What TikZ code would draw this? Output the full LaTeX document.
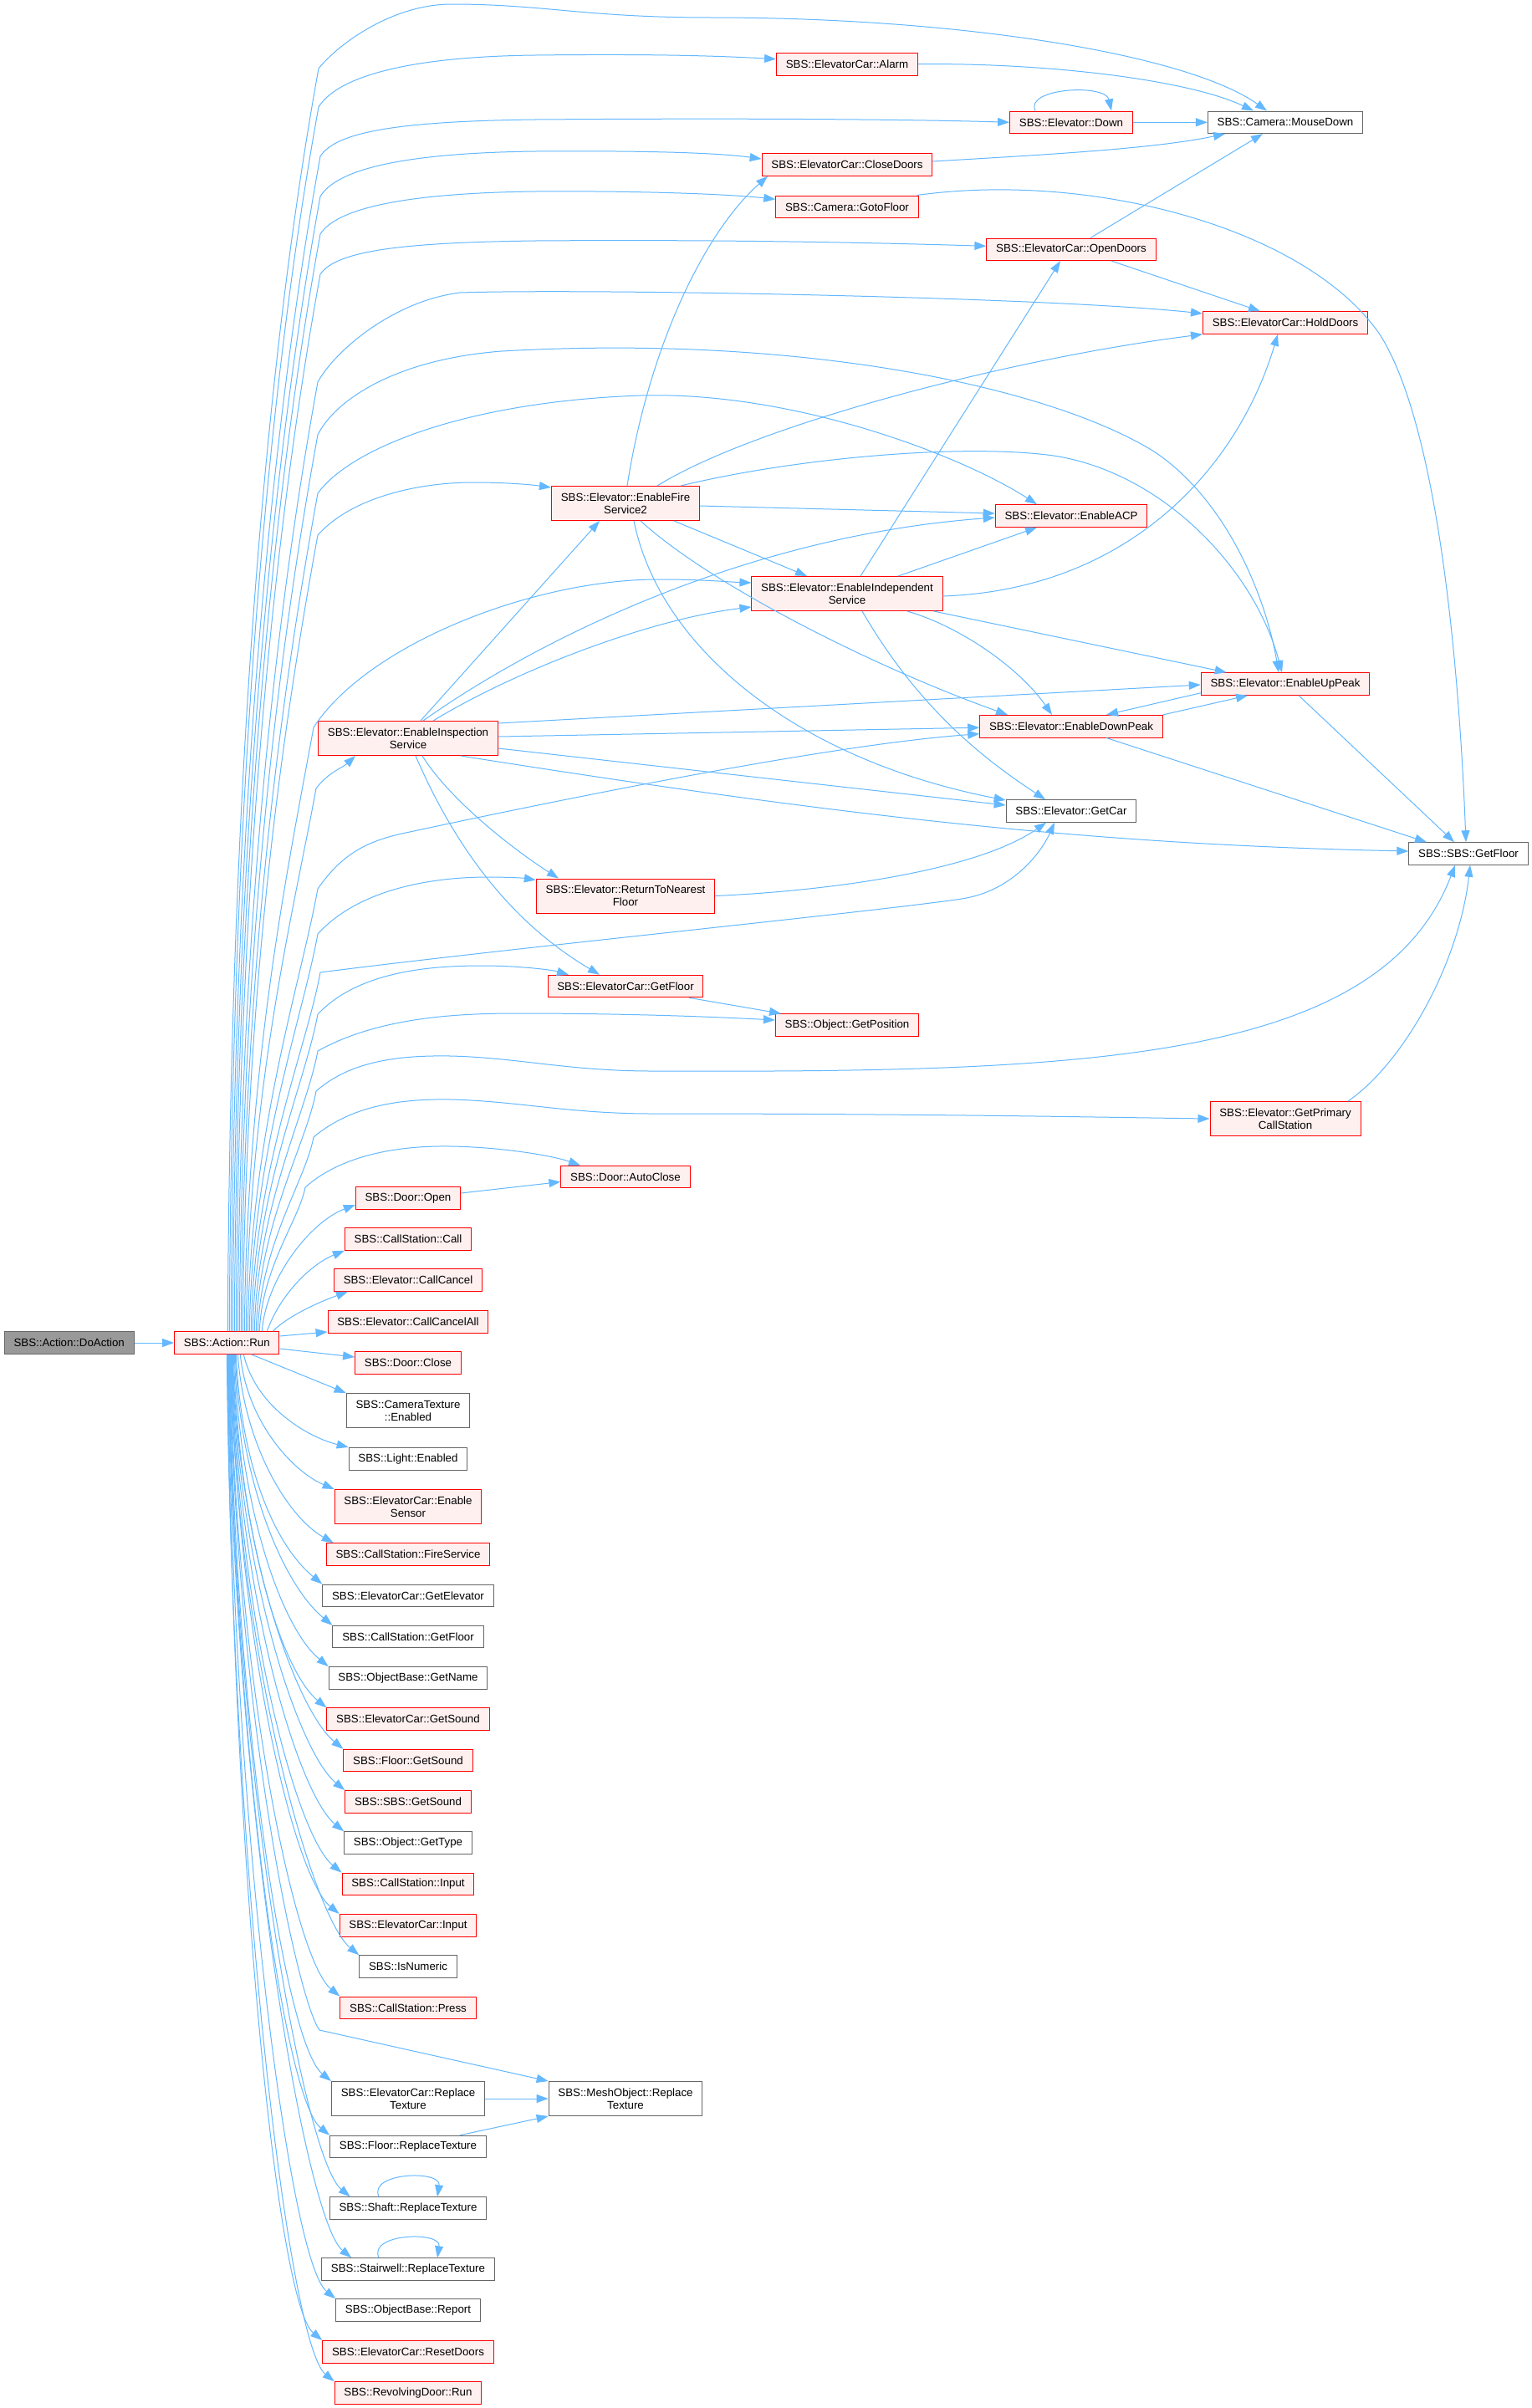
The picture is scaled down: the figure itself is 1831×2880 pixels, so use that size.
\documentclass[tikz,border=0pt]{standalone}
\usepackage{fontspec}
\setmainfont{Liberation Sans}
\usetikzlibrary{arrows.meta}
\definecolor{edgec}{HTML}{63B8FF}
\definecolor{redb}{HTML}{FF0000}
\definecolor{redf}{HTML}{FFF0F0}
\definecolor{grayb}{HTML}{666666}
\definecolor{dofill}{HTML}{999999}
\newcommand\upseg[3]{([xshift=#1]run.north) .. controls ({274.3+#1},{1593-0.45*(1593-#3)}) and ({#2-0.04*(1593-#3)},{#3+0.22*(1593-#3)}) .. (#2,#3)}
\newcommand\dnedge[3]{\draw[cn] ([xshift=#1]run.south) .. controls ({277.3+#1},{1619.3+0.5*(#3-1619.3)}) and ([xshift=-55pt,yshift=45pt]#2) .. (#2);}
\begin{document}
\begin{tikzpicture}[x=1pt,y=-1pt,
  nb/.style={draw, rectangle, font=\fontsize{13.3}{15}\selectfont, inner xsep=11.3pt, inner ysep=2pt, minimum height=26.6pt, align=center, line width=1pt, text=black},
  rn/.style={nb, draw=redb, fill=redf},
  gn/.style={nb, draw=grayb, fill=white},
  dn/.style={nb, draw=grayb, fill=dofill},
  two/.style={minimum height=41pt},
  cn/.style={draw=edgec, line width=1pt, -{Triangle[length=14pt,width=10pt]}}]
\useasboundingbox (0,0) rectangle (1831,2880);
\fill[white] (0,0) rectangle (1831,2880);
% nodes
\node[dn] (doaction) at (82.7,1606) {SBS::Action::DoAction};
\node[rn] (run) at (271.3,1606) {SBS::Action::Run};
\node[rn] (alarm) at (1013,76.7) {SBS::ElevatorCar::Alarm};
\node[rn] (down) at (1281,146.3) {SBS::Elevator::Down};
\node[gn] (mousedown) at (1537,146.3) {SBS::Camera::MouseDown};
\node[rn] (closedoors) at (1013,197) {SBS::ElevatorCar::CloseDoors};
\node[rn] (gotofloor) at (1013,247.3) {SBS::Camera::GotoFloor};
\node[rn] (opendoors) at (1281,298.3) {SBS::ElevatorCar::OpenDoors};
\node[rn] (holddoors) at (1537,386) {SBS::ElevatorCar::HoldDoors};
\node[rn,two] (fire2) at (748,602) {SBS::Elevator::EnableFire\\Service2};
\node[rn] (acp) at (1281,617) {SBS::Elevator::EnableACP};
\node[rn,two] (indep) at (1013,710) {SBS::Elevator::EnableIndependent\\Service};
\node[rn] (uppeak) at (1537,818) {SBS::Elevator::EnableUpPeak};
\node[rn] (downpeak) at (1281,868.7) {SBS::Elevator::EnableDownPeak};
\node[rn,two] (insp) at (488,883) {SBS::Elevator::EnableInspection\\Service};
\node[gn] (getcar) at (1281,970) {SBS::Elevator::GetCar};
\node[gn] (sbsfloor) at (1756,1021) {SBS::SBS::GetFloor};
\node[rn,two] (rtnf) at (748,1071.5) {SBS::Elevator::ReturnToNearest\\Floor};
\node[rn] (ecfloor) at (748,1179.5) {SBS::ElevatorCar::GetFloor};
\node[rn] (getpos) at (1013,1226) {SBS::Object::GetPosition};
\node[rn,two] (gpcs) at (1537,1338) {SBS::Elevator::GetPrimary\\CallStation};
\node[rn] (autoclose) at (748,1407.5) {SBS::Door::AutoClose};
\node[rn] (dopen) at (488,1433) {SBS::Door::Open};
\node[rn] (cscall) at (488,1482) {SBS::CallStation::Call};
\node[rn] (ccancel) at (488,1531) {SBS::Elevator::CallCancel};
\node[rn] (ccall) at (488,1581) {SBS::Elevator::CallCancelAll};
\node[rn] (dclose) at (488,1630) {SBS::Door::Close};
\node[gn,two] (camtex) at (488,1687) {SBS::CameraTexture\\::Enabled};
\node[gn] (light) at (488,1744.7) {SBS::Light::Enabled};
\node[rn,two] (sensor) at (488,1802) {SBS::ElevatorCar::Enable\\Sensor};
\node[rn] (csfire) at (488,1859) {SBS::CallStation::FireService};
\node[gn] (getelev) at (488,1908.3) {SBS::ElevatorCar::GetElevator};
\node[gn] (csfloor) at (488,1957.6) {SBS::CallStation::GetFloor};
\node[gn] (getname) at (488,2006.9) {SBS::ObjectBase::GetName};
\node[rn] (ecsound) at (488,2056.2) {SBS::ElevatorCar::GetSound};
\node[rn] (flsound) at (488,2105.5) {SBS::Floor::GetSound};
\node[rn] (sbssound) at (488,2154.8) {SBS::SBS::GetSound};
\node[gn] (gettype) at (488,2204.1) {SBS::Object::GetType};
\node[rn] (csinput) at (488,2253.4) {SBS::CallStation::Input};
\node[rn] (ecinput) at (488,2302.7) {SBS::ElevatorCar::Input};
\node[gn] (isnum) at (488,2352) {SBS::IsNumeric};
\node[rn] (press) at (488,2401.3) {SBS::CallStation::Press};
\node[gn,two] (ecrepl) at (488,2510) {SBS::ElevatorCar::Replace\\Texture};
\node[gn,two] (meshrepl) at (748,2510) {SBS::MeshObject::Replace\\Texture};
\node[gn] (flrepl) at (488,2567.5) {SBS::Floor::ReplaceTexture};
\node[gn] (shaft) at (488,2641) {SBS::Shaft::ReplaceTexture};
\node[gn] (stair) at (488,2714) {SBS::Stairwell::ReplaceTexture};
\node[gn] (report) at (488,2763) {SBS::ObjectBase::Report};
\node[rn] (reset) at (488,2812.7) {SBS::ElevatorCar::ResetDoors};
\node[rn] (revdoor) at (488,2862) {SBS::RevolvingDoor::Run};
\coordinate (shaftin) at ([xshift=25]shaft.north west);
\coordinate (stairin) at ([xshift=36]stair.north west);
\coordinate (firein) at ([xshift=9]csfire.north west);
% DoAction
\draw[cn] (doaction) -- (run);
% Run upward edges
\draw[cn] \upseg{1}{381}{82} .. controls (405,52) and (470,5) .. (540,5) .. controls (650,5) and (700,21) .. (850,21) .. controls (1150,21) and (1420,65) .. ([xshift=-22]mousedown.north);
\draw[cn] \upseg{3}{381}{128} .. controls (400,97) and (470,68) .. (640,66) .. controls (800,64) and (880,68) .. ([yshift=6]alarm.west);
\draw[cn] \upseg{5}{383}{187} .. controls (402,157) and (480,145) .. (640,143) .. controls (900,141) and (1100,143) .. (down.west);
\draw[cn] \upseg{7}{383}{235} .. controls (402,203) and (480,183) .. (640,181) .. controls (780,180) and (860,183) .. ([yshift=7]closedoors.west);
\draw[cn] \upseg{9}{383}{280} .. controls (402,250) and (480,231) .. (640,229) .. controls (780,228) and (880,233) .. ([yshift=9]gotofloor.west);
\draw[cn] \upseg{11}{383}{328} .. controls (402,300) and (480,290) .. (640,288) .. controls (900,286) and (1100,292) .. ([yshift=4]opendoors.west);
\draw[cn] \upseg{13}{380}{457} .. controls (400,420) and (470,360) .. (550,350) .. controls (700,345) and (1250,355) .. ([yshift=11]holddoors.west);
\draw[cn] \upseg{15}{380}{520} .. controls (400,480) and (470,430) .. (600,420) .. controls (950,400) and (1250,460) .. (1380,540) .. controls (1470,600) and (1515,720) .. ([xshift=-8]uppeak.north);
\draw[cn] \upseg{17}{380}{590} .. controls (420,535) and (560,480) .. (767,473) .. controls (950,468) and (1150,545) .. ([xshift=-41]acp.north);
\draw[cn] \upseg{19}{380}{640} .. controls (420,595) and (500,577) .. (566,577) .. controls (600,577) and (630,579) .. ([yshift=19]fire2.west);
\draw[cn] \upseg{21}{375}{870} .. controls (440,770) and (640,692) .. (790,693) .. controls (840,693) and (870,696) .. ([yshift=13]indep.west);
\draw[cn] \upseg{23}{378}{943} .. controls (392,924) and (410,918) .. ([xshift=-63]insp.south);
\draw[cn] \upseg{25}{380}{1063} .. controls (410,1020) and (440,1005) .. (490,995) .. controls (700,950) and (1000,890) .. ([yshift=-9]downpeak.west);
\draw[cn] \upseg{27}{380}{1117} .. controls (430,1062) and (520,1049) .. (583,1049) .. controls (605,1049) and (625,1050) .. ([yshift=19]rtnf.west);
\draw[cn] \upseg{29}{383}{1163} .. controls (600,1135) and (1050,1090) .. (1150,1075) .. controls (1210,1066) and (1245,1020) .. ([xshift=-20]getcar.south);
\draw[cn] \upseg{31}{380}{1213} .. controls (430,1160) and (520,1155) .. (577,1155) .. controls (620,1155) and (660,1160) .. ([xshift=-68]ecfloor.north);
\draw[cn] \upseg{33}{380}{1257} .. controls (450,1218) and (540,1212) .. (617,1212) .. controls (750,1212) and (850,1216) .. ([yshift=6]getpos.west);
\draw[cn] \upseg{35}{378}{1305} .. controls (420,1268) and (480,1262) .. (539,1263) .. controls (620,1265) and (680,1281) .. (780,1281) .. controls (1300,1283) and (1650,1270) .. ([xshift=-16]sbsfloor.south);
\draw[cn] \upseg{37}{375}{1360} .. controls (420,1322) and (480,1314) .. (539,1315) .. controls (620,1317) and (680,1332) .. (780,1332) .. controls (1100,1332) and (1300,1336) .. (gpcs.west);
\draw[cn] \upseg{39}{365}{1420} .. controls (410,1380) and (480,1370) .. (539,1371) .. controls (600,1372) and (660,1382) .. ([xshift=-54]autoclose.north);
\draw[cn] ([xshift=42]run.north) .. controls (318,1530) and (370,1462) .. ([yshift=-8]dopen.west);
\draw[cn] ([xshift=48]run.north) .. controls (335,1548) and (372,1512) .. (cscall.south west);
\draw[cn] ([xshift=55]run.north) .. controls (345,1573) and (385,1556) .. ([xshift=17]ccancel.south west);
\draw[cn] ([yshift=8]run.east) -- ([yshift=-12]ccall.west);
\draw[cn] ([yshift=-7]run.east) -- ([yshift=7]dclose.west);
\draw[cn] ([xshift=29]run.south) -- (camtex.north west);
\draw[cn] ([xshift=20]run.south) .. controls (305,1680) and (365,1718) .. (light.north west);
\draw[cn] ([xshift=16]run.south) .. controls (295,1700) and (350,1760) .. (sensor.north west);
\draw[cn] ([xshift=13]run.south) .. controls (292,1730) and (345,1815) .. (firein);
\dnedge{11}{getelev.north west}{1895}
\dnedge{10}{csfloor.north west}{1944.3}
\dnedge{9}{getname.north west}{1993.6}
\dnedge{8}{ecsound.north west}{2042.9}
\dnedge{7}{flsound.north west}{2092.2}
\dnedge{6.5}{sbssound.north west}{2141.5}
\dnedge{6}{gettype.north west}{2190.8}
\dnedge{5.5}{csinput.north west}{2240.1}
\dnedge{5}{ecinput.north west}{2289.4}
\dnedge{4.5}{isnum.north west}{2338.7}
\dnedge{4}{press.north west}{2388}
\draw[cn] ([xshift=3.5]run.south) .. controls (282,2050) and (355,2390) .. (382,2428) -- (meshrepl.north west);
\dnedge{3}{ecrepl.north west}{2489.7}
\dnedge{2.5}{flrepl.north west}{2554.7}
\dnedge{2}{shaftin}{2628}
\dnedge{1.5}{stairin}{2701.3}
\dnedge{1}{report.north west}{2750.3}
\dnedge{0.5}{reset.north west}{2800}
\dnedge{0}{revdoor.north west}{2849.3}
% other edges
\draw[cn] (alarm.east) .. controls (1250,75) and (1420,95) .. ([xshift=-38]mousedown.north);
\draw[cn] (down) -- (mousedown);
\draw[cn] ([xshift=-43]down.north) .. controls (1225,105) and (1322,100) .. ([xshift=48]down.north);
\draw[cn] ([yshift=4]closedoors.east) .. controls (1250,185) and (1380,178) .. ([xshift=-72]mousedown.south);
\draw[cn] ([xshift=23]opendoors.north) -- ([xshift=-27]mousedown.south);
\draw[cn] ([xshift=48]opendoors.south) -- ([xshift=-30]holddoors.north);
\draw[cn] ([xshift=-2]gotofloor.north east) .. controls (1300,205) and (1560,270) .. (1650,400) .. controls (1720,510) and (1745,800) .. ([xshift=-3]sbsfloor.north);
\draw[cn] ([xshift=2]fire2.north) .. controls (775,420) and (840,280) .. ([xshift=-95]closedoors.south);
\draw[cn] ([xshift=38]fire2.north) .. controls (900,510) and (1200,430) .. (holddoors.south west);
\draw[cn] ([yshift=-3]fire2.east) -- ([yshift=3]acp.west);
\draw[cn] ([xshift=58]fire2.south) -- ([xshift=-48]indep.north);
\draw[cn] ([xshift=66]fire2.north) .. controls (950,548) and (1150,530) .. (1260,545) .. controls (1390,565) and (1500,680) .. ([xshift=-4]uppeak.north);
\draw[cn] ([xshift=18]fire2.south) .. controls (850,700) and (1050,800) .. ([xshift=-76]downpeak.north);
\draw[cn] ([xshift=10]fire2.south) .. controls (790,780) and (960,910) .. ([yshift=13]getcar.west);
\draw[cn] ([xshift=61]indep.north) -- ([xshift=-41]acp.south);
\draw[cn] ([xshift=16]indep.north) -- ([xshift=-13]opendoors.south);
\draw[cn] ([yshift=-3]indep.east) .. controls (1350,705) and (1480,560) .. ([xshift=-9]holddoors.south);
\draw[cn] ([xshift=-11]indep.south east) -- ([xshift=31]uppeak.north west);
\draw[cn] ([xshift=72]indep.south) .. controls (1150,750) and (1220,800) .. ([xshift=-23]downpeak.north);
\draw[cn] ([xshift=18]indep.south) .. controls (1100,850) and (1180,910) .. ([xshift=-31]getcar.north);
\draw[cn] ([xshift=15]insp.north) -- ([xshift=-31]fire2.south);
\draw[cn] ([xshift=18]insp.north) .. controls (650,760) and (900,640) .. ([yshift=-2]acp.west);
\draw[cn] ([xshift=30]insp.north) .. controls (620,800) and (780,740) .. ([yshift=-16]indep.west);
\draw[cn] ([yshift=18]insp.east) -- ([yshift=-1]uppeak.west);
\draw[cn] ([yshift=2]insp.east) -- ([yshift=-1.5]downpeak.west);
\draw[cn] ([yshift=-12]insp.east) -- ([yshift=7]getcar.west);
\draw[cn] ([xshift=63]insp.south) .. controls (1000,975) and (1300,1010) .. ([yshift=3]sbsfloor.west);
\draw[cn] ([xshift=17]insp.south) .. controls (540,960) and (620,1020) .. ([xshift=-80]rtnf.north);
\draw[cn] ([xshift=9]insp.south) .. controls (560,1050) and (640,1120) .. ([xshift=-31]ecfloor.north);
\draw[cn] ([yshift=3]uppeak.south west) -- ([xshift=42]downpeak.north);
\draw[cn] (downpeak.north east) -- ([xshift=-45]uppeak.south);
\draw[cn] ([xshift=16]uppeak.south) -- ([xshift=-17]sbsfloor.north);
\draw[cn] ([xshift=42]downpeak.south) -- ([xshift=-50]sbsfloor.north);
\draw[cn] (rtnf.east) .. controls (1000,1065) and (1170,1040) .. ([xshift=-30]getcar.south);
\draw[cn] ([xshift=76]ecfloor.south) -- ([xshift=-79]getpos.north);
\draw[cn] ([xshift=75]gpcs.north) .. controls (1680,1270) and (1745,1150) .. ([xshift=2]sbsfloor.south);
\draw[cn] ([yshift=6]dopen.east) -- ([yshift=-6]autoclose.west);
\draw[cn] (ecrepl) -- (meshrepl);
\draw[cn] ([xshift=62]flrepl.north) -- (meshrepl.south west);
\draw[cn] ([xshift=-35]shaft.north) .. controls (440,2598) and (528,2595) .. ([xshift=35]shaft.north);
\draw[cn] ([xshift=-35]stair.north) .. controls (440,2671) and (528,2668) .. ([xshift=35]stair.north);
\end{tikzpicture}
\end{document}
